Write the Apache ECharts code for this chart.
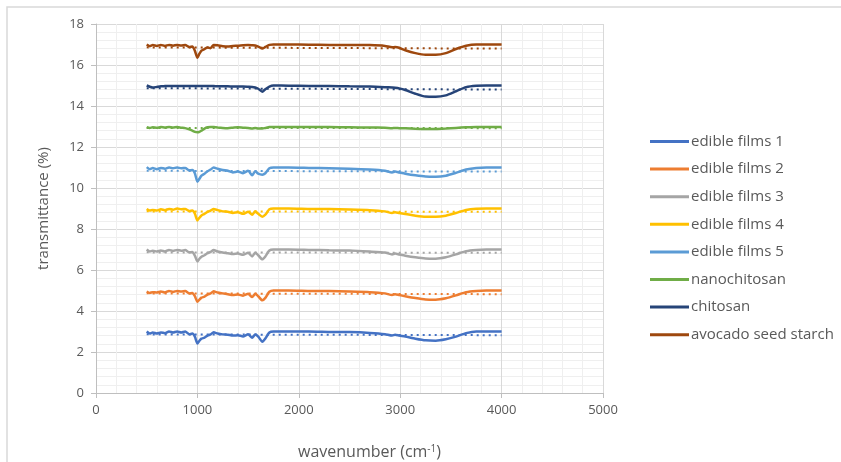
<!DOCTYPE html>
<html>
<head>
<meta charset="utf-8">
<script src="https://cdn.jsdelivr.net/npm/echarts@6/dist/echarts.min.js"></script>
<style>
  html, body { margin: 0; padding: 0; background: #fff; }
  #chart { width: 841px; height: 462px; }
</style>
</head>
<body>
<div id="chart"></div>
<script>
// wavenumbers shared by every spectrum (cm-1)
const wavenumber = [500, 530, 560, 600, 640, 680, 720, 760, 800, 840, 880, 920, 950, 975, 1000, 1020, 1040, 1070, 1100, 1130, 1160, 1200, 1250, 1300, 1350, 1400, 1450, 1500, 1540, 1570, 1600, 1640, 1670, 1710, 1750, 1900, 2100, 2300, 2500, 2700, 2850, 2920, 2950, 2990, 3050, 3150, 3250, 3350, 3450, 3550, 3650, 3750, 3850, 4000];

const seriesNames = ['edible films 1', 'edible films 2', 'edible films 3', 'edible films 4', 'edible films 5', 'nanochitosan', 'chitosan', 'avocado seed starch'];
const colors = ['#4472C4', '#ED7D31', '#A5A5A5', '#FFC000', '#5B9BD5', '#70AD47', '#264478', '#9E480E'];

const films1 = [3.0, 2.9, 2.95, 2.9, 2.95, 2.92, 3.0, 2.95, 3.0, 2.95, 3.0, 2.86, 2.9, 2.75, 2.42, 2.55, 2.65, 2.7, 2.8, 2.86, 2.96, 2.9, 2.86, 2.84, 2.8, 2.82, 2.76, 2.86, 2.7, 2.85, 2.75, 2.5, 2.66, 2.95, 3.0, 3.0, 3.0, 2.98, 2.97, 2.93, 2.87, 2.8, 2.84, 2.8, 2.75, 2.65, 2.57, 2.55, 2.62, 2.75, 2.92, 3.0, 3.0, 3.0];
const films2 = [4.95, 4.88, 4.92, 4.9, 4.95, 4.9, 4.98, 4.93, 4.98, 4.95, 4.97, 4.85, 4.88, 4.72, 4.45, 4.55, 4.65, 4.7, 4.8, 4.86, 4.96, 4.9, 4.86, 4.82, 4.78, 4.8, 4.75, 4.84, 4.68, 4.84, 4.72, 4.52, 4.64, 4.94, 5.0, 5.0, 4.98, 4.97, 4.95, 4.92, 4.86, 4.78, 4.82, 4.78, 4.72, 4.63, 4.56, 4.55, 4.62, 4.76, 4.92, 4.98, 5.0, 5.0];
const films3 = [7.0, 6.9, 6.94, 6.9, 6.95, 6.9, 6.98, 6.93, 6.98, 6.94, 6.97, 6.86, 6.88, 6.7, 6.42, 6.55, 6.65, 6.72, 6.82, 6.88, 6.97, 6.9, 6.85, 6.82, 6.78, 6.8, 6.74, 6.84, 6.66, 6.84, 6.72, 6.52, 6.66, 6.95, 7.0, 7.0, 6.98, 6.96, 6.95, 6.9, 6.85, 6.76, 6.8, 6.76, 6.7, 6.62, 6.56, 6.55, 6.62, 6.76, 6.92, 6.98, 7.0, 7.0];
const films4 = [8.98, 8.9, 8.93, 8.9, 8.96, 8.92, 8.98, 8.94, 9.0, 8.96, 8.98, 8.88, 8.9, 8.75, 8.42, 8.55, 8.66, 8.74, 8.84, 8.9, 8.98, 8.92, 8.86, 8.84, 8.78, 8.82, 8.74, 8.84, 8.7, 8.86, 8.74, 8.6, 8.7, 8.96, 9.0, 9.0, 8.98, 8.97, 8.95, 8.92, 8.86, 8.78, 8.82, 8.78, 8.73, 8.65, 8.6, 8.6, 8.65, 8.78, 8.93, 8.99, 9.0, 9.0];
const films5 = [11.02, 10.92, 10.97, 10.92, 10.98, 10.94, 11.0, 10.96, 11.0, 10.96, 10.98, 10.86, 10.88, 10.72, 10.3, 10.45, 10.6, 10.7, 10.82, 10.9, 11.0, 10.94, 10.88, 10.84, 10.76, 10.8, 10.72, 10.84, 10.62, 10.82, 10.7, 10.65, 10.72, 10.96, 11.0, 11.0, 10.98, 10.96, 10.94, 10.9, 10.84, 10.76, 10.8, 10.76, 10.7, 10.62, 10.56, 10.55, 10.6, 10.74, 10.9, 10.98, 11.0, 11.0];
const nanochitosan = [12.97, 12.93, 12.96, 12.94, 12.97, 12.95, 12.98, 12.95, 12.97, 12.94, 12.92, 12.86, 12.8, 12.74, 12.72, 12.74, 12.8, 12.9, 12.96, 12.98, 12.97, 12.95, 12.93, 12.92, 12.94, 12.96, 12.94, 12.93, 12.9, 12.93, 12.9, 12.9, 12.93, 12.97, 12.98, 12.98, 12.97, 12.97, 12.96, 12.95, 12.94, 12.92, 12.93, 12.92, 12.91, 12.89, 12.88, 12.88, 12.9, 12.93, 12.96, 12.98, 12.98, 12.98];
const chitosan = [15.0, 14.94, 14.9, 14.93, 14.96, 14.97, 14.98, 14.98, 14.98, 14.98, 14.98, 14.98, 14.98, 14.97, 14.98, 14.98, 14.97, 14.97, 14.97, 14.97, 14.97, 14.96, 14.96, 14.96, 14.95, 14.95, 14.95, 14.94, 14.93, 14.9, 14.84, 14.7, 14.82, 14.95, 15.0, 14.99, 14.98, 14.97, 14.96, 14.95, 14.92, 14.9, 14.89, 14.86, 14.78, 14.6, 14.46, 14.45, 14.52, 14.72, 14.92, 14.99, 15.0, 15.0];
const avocadoStarch = [17.0, 16.92, 16.97, 16.93, 16.98, 16.93, 16.98, 16.94, 16.98, 16.95, 16.98, 16.88, 16.9, 16.7, 16.35, 16.55, 16.7, 16.78, 16.85, 16.82, 16.98, 16.96, 16.92, 16.9, 16.93, 16.94, 16.96, 16.97, 16.96, 16.95, 16.9, 16.8, 16.88, 16.98, 17.0, 17.0, 16.99, 16.98, 16.98, 16.97, 16.93, 16.86, 16.88, 16.84, 16.72, 16.58, 16.5, 16.5, 16.58, 16.78, 16.94, 17.0, 17.0, 17.0];

const spectra = [films1, films2, films3, films4, films5, nanochitosan, chitosan, avocadoStarch];

// dotted linear trendlines: value at 500 and at 4000 cm-1
const trendRange = [500, 4000];
const trendStart = [2.86, 4.86, 6.86, 8.86, 10.84, 12.93, 14.87, 16.86];
const trendEnd = [2.82, 4.82, 6.84, 8.84, 10.8, 12.92, 14.8, 16.8];

const chart = echarts.init(document.getElementById('chart'));
const txt = '#595959';
const fontFamily = 'Open Sans, Liberation Sans, sans-serif';

let series = [];
spectra.forEach((vals, i) => {
    series.push({
        name: seriesNames[i],
        type: 'line',
        data: wavenumber.map((w, k) => [w, vals[k]]),
        showSymbol: false,
        symbol: 'none',
        smooth: 0.2,
        color: colors[i],
        lineStyle: {width: 2.5, color: colors[i]},
        z: 3
    });
});
spectra.forEach((vals, i) => {
    series.push({
        name: 'trend ' + (i + 1),
        type: 'line',
        data: [[trendRange[0], trendStart[i]], [trendRange[1], trendEnd[i]]],
        symbol: 'none',
        color: colors[i],
        lineStyle: {width: 2, type: [2, 4], color: colors[i]},
        z: 2
    });
});

chart.setOption({
    animation: false,
    textStyle: {fontFamily},
    graphic: [{
        type: 'rect',
        shape: {x: 7, y: 7, width: 900, height: 500},
        style: {fill: 'none', stroke: '#D9D9D9', lineWidth: 1.5},
        silent: true
    }],
    grid: {left: 96, right: 238, top: 24, bottom: 69, outerBoundsMode: 'none'},
    legend: {
        data: seriesNames,
        orient: 'vertical',
        left: 645,
        top: 129,
        icon: 'rect',
        itemWidth: 39,
        itemHeight: 3,
        itemGap: 12.6,
        textStyle: {color: txt, fontSize: 15, fontFamily, padding: [0, 0, 0, -3]}
    },
    xAxis: {
        type: 'value',
        min: 0,
        max: 5000,
        interval: 1000,
        name: '{a|wavenumber (cm}{s|-1}{a|)}',
        nameLocation: 'middle',
        nameGap: 51,
        nameTextStyle: {
            padding: [0, 0, 0, 40],
            rich: {
                a: {color: txt, fontSize: 16, fontFamily},
                s: {color: txt, fontSize: 10, fontFamily, verticalAlign: 'top', padding: [0, 0, 6, 0]}
            }
        },
        axisLine: {show: true, lineStyle: {color: '#BFBFBF', width: 1}},
        axisTick: {show: true, length: 5, lineStyle: {color: '#BFBFBF'}},
        axisLabel: {color: txt, fontSize: 13, margin: 11, formatter: v => String(v)},
        splitLine: {show: true, lineStyle: {color: '#D9D9D9', width: 1}},
        minorTick: {show: false, splitNumber: 5},
        minorSplitLine: {show: true, lineStyle: {color: '#EFEFEF', width: 1}}
    },
    yAxis: {
        type: 'value',
        min: 0,
        max: 18,
        interval: 2,
        name: 'transmittance (%)',
        nameLocation: 'middle',
        nameGap: 45,
        nameTextStyle: {color: txt, fontSize: 15, fontFamily},
        axisLine: {show: true, lineStyle: {color: '#BFBFBF', width: 1}},
        axisTick: {show: true, length: 5, lineStyle: {color: '#BFBFBF'}},
        axisLabel: {color: txt, fontSize: 13, margin: 12},
        splitLine: {show: true, lineStyle: {color: '#D9D9D9', width: 1}},
        minorTick: {show: false, splitNumber: 5},
        minorSplitLine: {show: true, lineStyle: {color: '#EFEFEF', width: 1}}
    },
    series
});
</script>
</body>
</html>
